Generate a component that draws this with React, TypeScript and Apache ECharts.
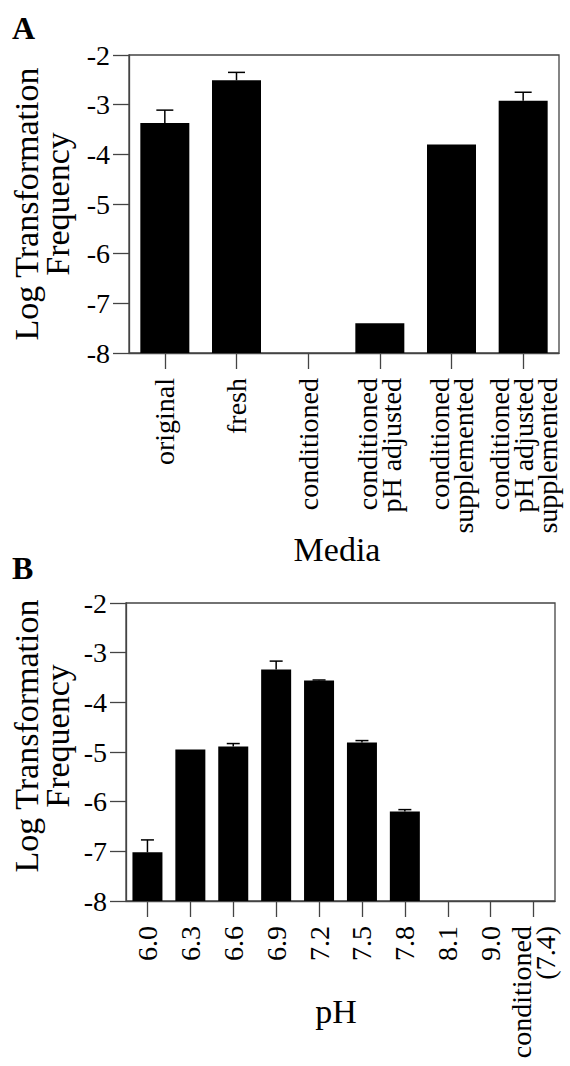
import React, { useEffect, useRef } from "react";
import * as echarts from "echarts";

// Panel A: media
const mediaCategories = [
  "original",
  "fresh",
  "conditioned",
  "conditioned\npH adjusted",
  "conditioned\nsupplemented",
  "conditioned\npH adjusted\nsupplemented",
];
const mediaValues: (number | null)[] = [-3.37, -2.51, null, -7.4, -3.8, -2.92];
const mediaErrTop: (number | null)[] = [-3.11, -2.35, null, null, null, -2.75];

// Panel B: pH
const phCategories = ["6.0", "6.3", "6.6", "6.9", "7.2", "7.5", "7.8", "8.1", "9.0", "conditioned\n(7.4)"];
const phValues: (number | null)[] = [-7.02, -4.95, -4.89, -3.34, -3.56, -4.81, -6.2, null, null, null];
const phErrTop: (number | null)[] = [-6.77, null, -4.83, -3.17, -3.55, -4.77, -6.16, null, null, null];

const yMin = -8;
const yMax = -2;

const FONT = "Liberation Serif";
const LINE = "#444";

export default function App() {
  const ref = useRef<HTMLDivElement>(null);

  useEffect(() => {
    document.body.style.margin = "0";
    const chart = echarts.init(ref.current!, null, { renderer: "svg" });

    const barSeries = (xi: number, values: (number | null)[], width: number) => ({
      type: "custom",
      xAxisIndex: xi,
      yAxisIndex: xi,
      data: values.map((v, i) => [i, v]).filter((d) => d[1] !== null),
      renderItem: (params: any, api: any) => {
        const i = api.value(0);
        const v = api.value(1);
        const base = api.coord([i, yMin]);
        const top = api.coord([i, v]);
        return {
          type: "rect",
          shape: { x: top[0] - width / 2, y: top[1], width, height: base[1] - top[1] },
          style: { fill: "#000" },
        };
      },
    });

    const errSeries = (xi: number, values: (number | null)[], errs: (number | null)[], cap: number) => ({
      type: "custom",
      xAxisIndex: xi,
      yAxisIndex: xi,
      data: values
        .map((v, i) => [i, v, errs[i]])
        .filter((d) => d[1] !== null && d[2] !== null),
      renderItem: (params: any, api: any) => {
        const i = api.value(0);
        const v = api.value(1);
        const e = api.value(2);
        const p0 = api.coord([i, v]);
        const p1 = api.coord([i, e]);
        return {
          type: "group",
          children: [
            {
              type: "line",
              shape: { x1: p0[0], y1: p0[1], x2: p1[0], y2: p1[1] },
              style: { stroke: "#000", lineWidth: 1.5 },
            },
            {
              type: "line",
              shape: { x1: p1[0] - cap / 2, y1: p1[1], x2: p1[0] + cap / 2, y2: p1[1] },
              style: { stroke: "#000", lineWidth: 1.5 },
            },
          ],
        };
      },
    });

    const xAxisBase = (gi: number, data: string[]) => ({
      type: "category",
      gridIndex: gi,
      data,
      axisLine: { show: true, lineStyle: { color: LINE, width: 1.3 } },
      axisTick: { show: true, alignWithLabel: true, length: 16, lineStyle: { color: LINE, width: 1.3 } },
      axisLabel: {
        interval: 0,
        rotate: 90,
        fontSize: 28,
        lineHeight: 24,
        fontFamily: FONT,
        color: "#000",
        margin: 25,
      },
      splitLine: { show: false },
    });

    const yAxisBase = (gi: number) => ({
      type: "value",
      gridIndex: gi,
      min: yMin,
      max: yMax,
      interval: 1,
      axisLine: { show: true, lineStyle: { color: LINE, width: 1.3 } },
      axisTick: { show: true, length: 16, lineStyle: { color: LINE, width: 1.3 } },
      axisLabel: { fontSize: 28, fontFamily: FONT, color: "#000", margin: 19 },
      splitLine: { show: false },
    });

    const titleText = (y: number) => ({
      type: "text",
      x: 42,
      y,
      rotation: Math.PI / 2,
      style: {
        text: "Log Transformation\nFrequency",
        fontSize: 34,
        fontFamily: FONT,
        lineHeight: 31,
        align: "center",
        verticalAlign: "middle",
        fill: "#000",
      },
    });

    chart.setOption({
      animation: false,
      textStyle: { fontFamily: FONT },
      grid: [
        { left: 129, top: 55, width: 430, height: 298, show: true, borderColor: LINE, borderWidth: 1.3 },
        { left: 126, top: 603, width: 429, height: 298, show: true, borderColor: LINE, borderWidth: 1.3 },
      ],
      xAxis: [xAxisBase(0, mediaCategories), xAxisBase(1, phCategories)],
      yAxis: [yAxisBase(0), yAxisBase(1)],
      series: [
        barSeries(0, mediaValues, 49),
        errSeries(0, mediaValues, mediaErrTop, 17),
        barSeries(1, phValues, 30),
        errSeries(1, phValues, phErrTop, 13),
      ],
      graphic: [
        {
          type: "text",
          x: 12,
          y: 12,
          style: { text: "A", fontSize: 32, fontWeight: "bold", fontFamily: FONT, fill: "#000" },
        },
        {
          type: "text",
          x: 12,
          y: 552,
          style: { text: "B", fontSize: 32, fontWeight: "bold", fontFamily: FONT, fill: "#000" },
        },
        titleText(204),
        titleText(736),
        {
          type: "text",
          x: 337,
          y: 532,
          style: { text: "Media", fontSize: 34, fontFamily: FONT, align: "center", fill: "#000" },
        },
        {
          type: "text",
          x: 336,
          y: 994,
          style: { text: "pH", fontSize: 34, fontFamily: FONT, align: "center", fill: "#000" },
        },
      ],
    });

    return () => chart.dispose();
  }, []);

  return <div ref={ref} style={{ width: 570, height: 1066 }} />;
}
